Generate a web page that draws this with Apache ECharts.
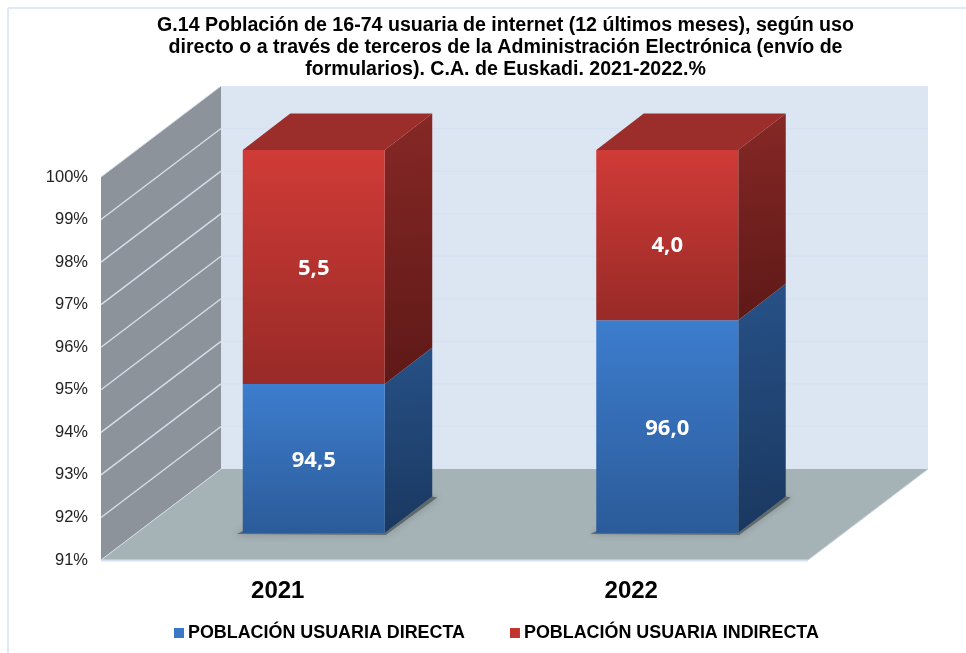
<!DOCTYPE html>
<html><head><meta charset="utf-8">
<style>html,body{margin:0;padding:0;background:#fff}#c{width:966px;height:653px}</style>
<script src="https://cdn.jsdelivr.net/npm/echarts@6/dist/echarts.min.js"></script>
</head><body><div id="c"></div>
<script>
const titleText = 'G.14 Población de 16-74 usuaria de internet (12 últimos meses), según uso\ndirecto o a través de terceros de la Administración Electrónica (envío de\nformularios). C.A. de Euskadi. 2021-2022.%';
const years = ['2021', '2022'];
const directa = [94.5, 96.0];
const indirecta = [5.5, 4.0];
const directaLabels = ['94,5', '96,0'];
const indirectaLabels = ['5,5', '4,0'];
const ticks = [92, 93, 94, 95, 96, 97, 98, 99];
const axisMin = 91, axisMax = 100;
const nameDirecta = 'POBLACIÓN USUARIA DIRECTA';
const nameIndirecta = 'POBLACIÓN USUARIA INDIRECTA';

const chart = echarts.init(document.getElementById('c'), null, {renderer: 'canvas'});
const LG = echarts.graphic.LinearGradient;
// projection of the box: wall depth and bar placement
const wallDx = 120, wallDy = -91;
const barShiftX = 36, barShiftY = -27, barW = 142, barDx = 47.5, barDy = -36.5;
const labelNudge = {'indirecta1': 10.5, 'indirecta0': 1.5, 'directa0': 2, 'directa1': 2};

function poly(points, fill, extra) {
  return Object.assign({type: 'polygon', shape: {points}, style: {fill}, silent: true}, extra || {});
}
function line(x1, y1, x2, y2, stroke, lineWidth) {
  return {type: 'line', shape: {x1, y1, x2, y2}, style: {stroke, lineWidth}, silent: true};
}

function renderWalls(params, api) {
  const cs = params.coordSys;
  const xL = cs.x, xR = cs.x + cs.width;
  const yB = api.coord([0, axisMin])[1], yT = api.coord([0, axisMax])[1];
  const ch = [];
  ch.push(poly([[xL + wallDx, yT + wallDy], [xR + wallDx, yT + wallDy], [xR + wallDx, yB + wallDy], [xL + wallDx, yB + wallDy]], '#dce6f2'));
  ch.push(poly([[xL, yT], [xL + wallDx, yT + wallDy], [xL + wallDx, yB + wallDy], [xL, yB]], '#8c939b'));
  ch.push(poly([[xL, yB], [xR, yB], [xR + wallDx, yB + wallDy], [xL + wallDx, yB + wallDy]], '#a6b3b6'));
  ticks.forEach(t => {
    const y = api.coord([0, t])[1];
    ch.push(line(xL + wallDx, y + wallDy, xR + wallDx, y + wallDy, '#d6e2f2', 1.2));
    ch.push(line(xL, y, xL + wallDx, y + wallDy, '#d5dfeb', 1.4));
  });
  ch.push(line(xL, yT, xL + wallDx, yT + wallDy, '#d5dfeb', 1));
  ch.push(line(xL, yB, xL + wallDx, yB + wallDy, '#d5dfeb', 1));
  ch.push(line(xR, yB, xR + wallDx, yB + wallDy, '#c2d0da', 1));
  ch.push(line(xL, yB + 0.5, xR, yB + 0.5, '#d5e1f1', 2));
  return {type: 'group', children: ch};
}

function makeBar(kind, bases, tops, labels, colors) {
  return function (params, api) {
    const i = params.dataIndex;
    const cx = api.coord([i, axisMin])[0] + barShiftX;
    const yBase = api.coord([i, bases[i]])[1] + barShiftY;
    const yTop = api.coord([i, tops[i]])[1] + barShiftY;
    const x0 = cx - barW / 2, x1 = cx + barW / 2;
    const ch = [];
    if (kind === 'directa') {
      const fill = 'rgba(60,68,68,0.6)';
      ch.push(poly([[x0 - 6, yBase + 1], [x1 + 1, yBase + 2], [x1 + barDx + 5, yBase + barDy + 1], [x1 + barDx, yBase + barDy], [x1, yBase], [x0, yBase - 2]],
        fill, {style: {fill, shadowBlur: 7, shadowColor: 'rgba(60,68,68,0.8)'}}));
    }
    ch.push(poly([[x1, yTop], [x1 + barDx, yTop + barDy], [x1 + barDx, yBase + barDy], [x1, yBase]],
      new LG(0, 0, 0.35, 1, [{offset: 0, color: colors.sideTop}, {offset: 1, color: colors.sideBottom}])));
    if (colors.top) {
      ch.push(poly([[x0, yTop], [x0 + barDx, yTop + barDy], [x1 + barDx, yTop + barDy], [x1, yTop]], colors.top));
    }
    ch.push({type: 'rect', shape: {x: x0, y: yTop, width: barW, height: yBase - yTop}, silent: true,
      style: {fill: new LG(0, 0, 0, 1, [{offset: 0, color: colors.frontTop}, {offset: 1, color: colors.frontBottom}])}});
    ch.push({type: 'text', silent: true, x: cx, y: (yTop + yBase) / 2 + labelNudge[kind + i],
      style: {text: labels[i], fill: '#fff', font: '700 22px "Open Sans"', align: 'center', verticalAlign: 'middle'}});
    return {type: 'group', children: ch};
  };
}

const stackTops = directa.map((v, i) => v + indirecta[i]);
const floorBases = years.map(() => axisMin);
const option = {
  animation: false,
  backgroundColor: '#fff',
  title: {
    text: titleText, left: 500.5, top: 10, textAlign: 'center',
    textStyle: {fontFamily: '"Liberation Sans"', fontWeight: 700, fontSize: 19.6, lineHeight: 22, color: '#000'}
  },
  graphic: [
    {type: 'line', shape: {x1: 8, y1: 8, x2: 8, y2: 653}, style: {stroke: '#dfe9f5', lineWidth: 2}, silent: true},
    {type: 'line', shape: {x1: 8, y1: 8, x2: 966, y2: 8}, style: {stroke: '#dfe9f5', lineWidth: 2}, silent: true}
  ],
  legend: {
    data: [nameDirecta, nameIndirecta], left: 169, top: 619, itemWidth: 10, itemHeight: 10, itemGap: 45,
    icon: 'rect', selectedMode: false,
    textStyle: {fontFamily: '"Liberation Sans"', fontWeight: 700, fontSize: 17.9, color: '#000', padding: [0, 0, 0, -1]}
  },
  grid: {left: 101, top: 177, width: 707, height: 383, containLabel: false},
  xAxis: {
    type: 'category', data: years,
    axisLine: {show: false}, axisTick: {show: false}, splitLine: {show: false},
    axisLabel: {fontFamily: '"Liberation Sans"', fontWeight: 700, fontSize: 24, color: '#000', margin: 19}
  },
  yAxis: {
    type: 'value', min: axisMin, max: axisMax, interval: 1,
    axisLine: {show: false}, axisTick: {show: false}, splitLine: {show: false},
    axisLabel: {formatter: '{value}%', fontFamily: '"Liberation Sans"', fontSize: 16.5, color: '#222', margin: 13, padding: [4, 0, 0, 0]}
  },
  series: [
    {name: 'walls', type: 'custom', silent: true, z: 1, renderItem: renderWalls, data: [[0, axisMin]], encode: {x: 0, y: 1}, clip: false},
    {name: nameDirecta, type: 'custom', silent: true, z: 2, clip: false,
      itemStyle: {color: '#3a78c6'},
      renderItem: makeBar('directa', floorBases, directa, directaLabels,
        {sideTop: '#275187', sideBottom: '#1a3860', frontTop: '#3d7dce', frontBottom: '#2b5b99'}),
      data: years.map((y, i) => [i, directa[i]]), encode: {x: 0, y: 1}},
    {name: nameIndirecta, type: 'custom', silent: true, z: 3, clip: false,
      itemStyle: {color: '#c2352f'},
      renderItem: makeBar('indirecta', directa, stackTops, indirectaLabels,
        {sideTop: '#862826', sideBottom: '#5e1917', top: '#9b2d2a', frontTop: '#d03b37', frontBottom: '#982a27'}),
      data: years.map((y, i) => [i, stackTops[i]]), encode: {x: 0, y: 1}}
  ]
};
chart.setOption(option);
</script></body></html>
